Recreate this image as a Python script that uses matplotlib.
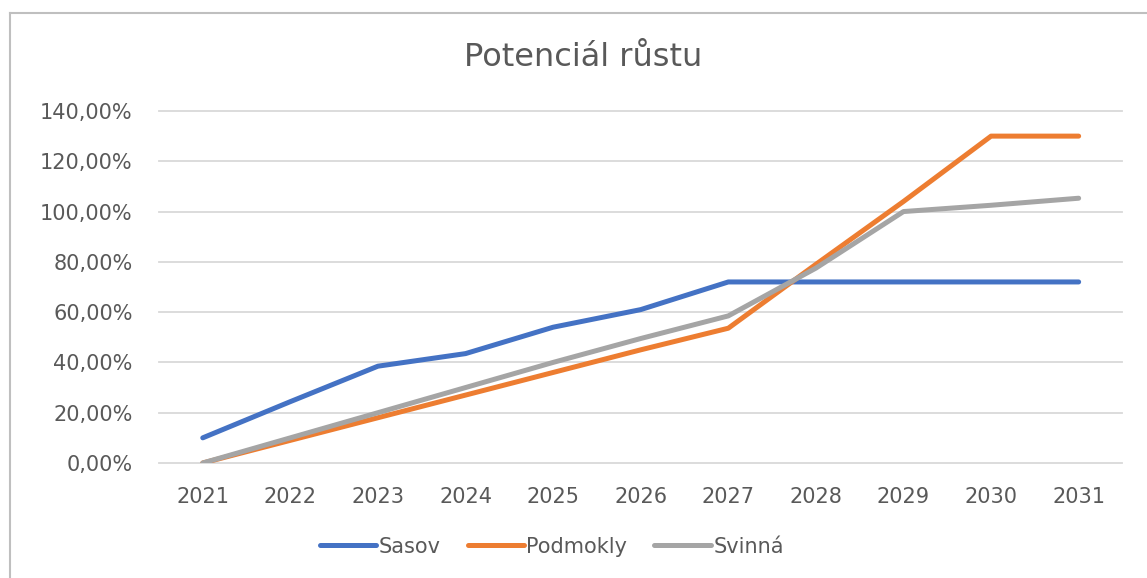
import matplotlib
matplotlib.use("Agg")
import matplotlib.pyplot as plt
from matplotlib.lines import Line2D
from matplotlib.ticker import FuncFormatter

years = ["2021", "2022", "2023", "2024", "2025", "2026", "2027", "2028", "2029", "2030", "2031"]
sasov = [10, 24.4, 38.5, 43.5, 54, 61, 72, 72, 72, 72, 72]
podmokly = [0, 9, 18, 27, 36, 45, 53.6, 79, 104, 130, 130]
svinna = [0, 10, 20, 30, 40, 49.5, 58.5, 77.5, 100, 102.5, 105.3]

series = [("Sasov", sasov, "#4472C4"),
          ("Podmokly", podmokly, "#ED7D31"),
          ("Svinná", svinna, "#A5A5A5")]

text_col = "#595959"
plt.rcParams['font.family'] = ['DejaVu Sans']

fig = plt.figure(figsize=(11.47, 5.78), dpi=100)
ax = fig.add_axes([0.1386, 0.199, 0.840, 0.609])

x = list(range(len(years)))
for name, vals, col in series:
    ax.plot(x, vals, color=col, lw=3.6, label=name, solid_capstyle="round", solid_joinstyle="round")

ax.set_xlim(-0.5, len(years) - 0.5)
ax.set_ylim(0, 140)
ax.set_yticks(range(0, 141, 20))
ax.yaxis.set_major_formatter(FuncFormatter(lambda v, p: f"{v:.2f}".replace(".", ",") + "%"))
ax.set_xticks(x)
ax.set_xticklabels(years)
ax.grid(axis="y", color="#D9D9D9", lw=1.3)
ax.set_axisbelow(True)
for gl in ax.get_ygridlines():
    gl.set_clip_on(False)
for s in ax.spines.values():
    s.set_visible(False)
ax.tick_params(axis="both", length=0, labelsize=15, colors=text_col)
ax.tick_params(axis="y", pad=19)
ax.tick_params(axis="x", pad=17)

fig.text(0.508, 0.90, "Potenciál růstu", ha="center", va="center", fontsize=23, color=text_col)

leg = fig.legend(loc="center", bbox_to_anchor=(0.481, 0.054), ncol=3, frameon=False,
                 fontsize=15, handlelength=2.7, handletextpad=0.12, columnspacing=1.3)
for t in leg.get_texts():
    t.set_color(text_col)

# chart frame (top and left edges visible)
fig.add_artist(Line2D([10 / 1147, 10 / 1147], [0, 1 - 13 / 578], transform=fig.transFigure, color="#BFBFBF", lw=1.5))
fig.add_artist(Line2D([10 / 1147, 1], [1 - 13 / 578, 1 - 13 / 578], transform=fig.transFigure, color="#BFBFBF", lw=1.5))

fig.savefig("out.png", dpi=100)
